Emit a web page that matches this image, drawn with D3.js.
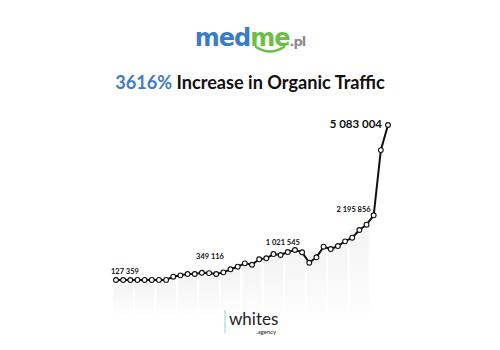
<!DOCTYPE html>
<html lang="en">
<head>
    <meta charset="UTF-8">
    <title>medme.pl organic traffic</title>
    <script src="https://d3js.org/d3.v7.min.js"></script>
</head>
<style>
    html,body {
        margin: 0;
        padding: 0;
        background: #fff;
    }
</style>
<body>
    <div id="svg"></div>
</body>
<script>
    // monthly organic traffic
    const traffic = [127359, 127900, 128400, 129000, 129500, 130100, 130600, 131200,
        233000, 277000, 319000, 320000, 360000, 349116, 320000, 373000, 470000, 553000,
        660000, 616000, 789000, 821000, 958000, 927000, 1021545, 1087000, 1013000, 680000,
        853000, 1192000, 1118000, 1214000, 1364000, 1480000, 1726000, 1895000, 2195856,
        4280000, 5083004];
    // which points get a value label
    const labelled = [0, 13, 24, 36, 38];
    const labelText = ['127 359', '349 116', '1 021 545', '2 195 856', '5 083 004'];

    const width = 500;
    const height = 350;

    const svg = d3.select('#svg').append('svg')
        .attr('width', width)
        .attr('height', height)
        .style('font-family', 'Lato, "Open Sans", sans-serif');

    const xScale = d3.scalePoint().domain(traffic.map((d, i) => i)).range([116, 388]);
    const yScale = d3.scaleLinear().domain([0, d3.max(traffic)]).range([284, 125]);
    const step = xScale.step();

    // faint columns behind the line
    const defs = svg.append('defs');
    const grad = defs.append('linearGradient').attr('id', 'fade')
        .attr('x1', 0).attr('y1', 0).attr('x2', 0).attr('y2', 1);
    grad.append('stop').attr('offset', '0%').attr('stop-color', '#f4f4f4');
    grad.append('stop').attr('offset', '100%').attr('stop-color', '#fdfdfd');

    const groups = d3.range(0, traffic.length - 3, 3);
    svg.append('g').selectAll('rect').data(groups).enter().append('rect')
        .attr('x', i => xScale(i) - step / 2 + 1)
        .attr('width', step * 3 - 2)
        .attr('y', i => yScale(d3.max(traffic.slice(i, i + 3))) + 4)
        .attr('height', i => 314 - yScale(d3.max(traffic.slice(i, i + 3))) - 4)
        .attr('fill', 'url(#fade)');

    // line
    const line = d3.line().x((d, i) => xScale(i)).y(d => yScale(d));
    svg.append('path').datum(traffic)
        .attr('d', line)
        .attr('fill', 'none')
        .attr('stroke', '#111')
        .attr('stroke-width', 2)
        .attr('stroke-linejoin', 'round');

    svg.append('g').selectAll('circle').data(traffic).enter().append('circle')
        .attr('cx', (d, i) => xScale(i))
        .attr('cy', d => yScale(d))
        .attr('r', 2.4)
        .attr('fill', '#fff')
        .attr('stroke', '#111')
        .attr('stroke-width', 1.1);

    // value labels
    const labelStyle = [
        {dx: -5, dy: -6, anchor: 'start', size: 7.5},
        {dx: -13, dy: -14, anchor: 'start', size: 7.5},
        {dx: -22, dy: -7, anchor: 'start', size: 7.5},
        {dx: -3, dy: -3, anchor: 'end', size: 7.5},
        {dx: -6, dy: 3, anchor: 'end', size: 11.5}
    ];
    svg.append('g').selectAll('text').data(labelled).enter().append('text')
        .attr('x', (d, k) => xScale(d) + labelStyle[k].dx)
        .attr('y', (d, k) => yScale(traffic[d]) + labelStyle[k].dy)
        .attr('text-anchor', (d, k) => labelStyle[k].anchor)
        .attr('font-size', (d, k) => labelStyle[k].size)
        .attr('font-weight', 'bold')
        .attr('fill', '#111')
        .text((d, k) => labelText[k]);

    // title
    const title = svg.append('text')
        .attr('x', 250).attr('y', 89)
        .attr('text-anchor', 'middle')
        .attr('font-size', 19)
        .attr('font-weight', 'bold')
        .attr('fill', '#111');
    title.append('tspan').attr('fill', '#3f7cc6').text('3616%');
    title.append('tspan').text(' Increase in Organic Traffic');
    const tw = title.node().getComputedTextLength();
    title.attr('font-size', 19 * 270 / tw);

    // medme.pl logo
    const logo = svg.append('text')
        .attr('x', 250).attr('y', 46)
        .attr('text-anchor', 'middle')
        .attr('font-family', '"DejaVu Sans", sans-serif')
        .attr('font-size', 24)
        .attr('font-weight', 'bold')
        .attr('letter-spacing', -1);
    logo.append('tspan').attr('fill', '#3a7cc7').text('med');
    logo.append('tspan').attr('fill', '#6cbf45').text('me');
    logo.append('tspan').attr('fill', '#8a8a8a').attr('font-size', 13).text('.pl');
    svg.append('path')
        .attr('d', 'M256,47 Q270,56 284,47')
        .attr('fill', 'none')
        .attr('stroke', '#6cbf45')
        .attr('stroke-width', 2.6)
        .attr('stroke-linecap', 'round');

    // whites agency logo
    svg.append('line')
        .attr('x1', 225).attr('x2', 225).attr('y1', 310).attr('y2', 333)
        .attr('stroke', '#8fd3d0').attr('stroke-width', 1);
    svg.append('text')
        .attr('x', 229).attr('y', 325)
        .attr('font-size', 17)
        .attr('fill', '#222')
        .text('whites');
    svg.append('text')
        .attr('x', 276).attr('y', 334)
        .attr('text-anchor', 'end')
        .attr('font-size', 6)
        .attr('fill', '#222')
        .text('.agency');
</script>
</html>
